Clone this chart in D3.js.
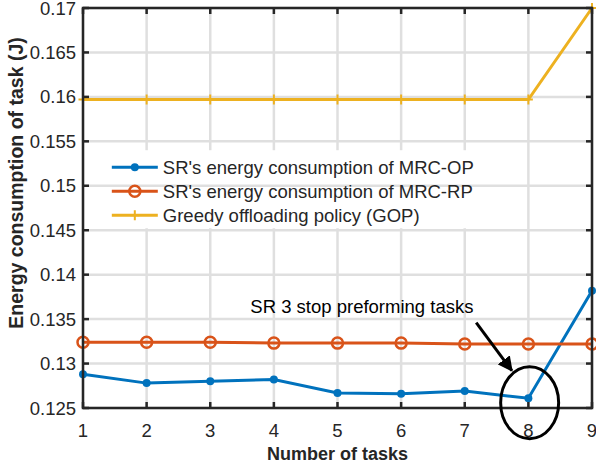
<!doctype html>
<html>
<head>
<meta charset="UTF-8">
<title>Energy consumption of task</title>
<script src="https://cdn.jsdelivr.net/npm/d3@7"></script>
<style>
  body { margin: 0; background: #fff; }
  text { font-family: "Liberation Sans", Arial, sans-serif; fill: #262626; }
</style>
</head>
<body>
<svg id="chart" width="596" height="471"></svg>
<script>
// data
var tasks = [1, 2, 3, 4, 5, 6, 7, 8, 9];
var mrcOP = [0.1288, 0.1278, 0.1280, 0.1282, 0.1267, 0.1266, 0.1269, 0.1261, 0.1382];
var mrcRP = [0.1324, 0.1324, 0.1324, 0.1323, 0.1323, 0.1323, 0.1322, 0.1322, 0.1322];
var gop   = [0.1597, 0.1597, 0.1597, 0.1597, 0.1597, 0.1597, 0.1597, 0.1597, 0.1700];
var yTicks = [0.125, 0.13, 0.135, 0.14, 0.145, 0.15, 0.155, 0.16, 0.165, 0.17];
var xTicks = [1, 2, 3, 4, 5, 6, 7, 8, 9];
var seriesNames = ["SR's energy consumption of MRC-OP", "SR's energy consumption of MRC-RP", "Greedy offloading policy (GOP)"];
var seriesColors = ["#0072BD", "#D95319", "#EDB120"];
var noteText = "SR 3 stop preforming tasks";

var svg = d3.select("#chart"),
    margin = {top: 8, right: 4, bottom: 63, left: 83},
    W = +svg.attr("width"), H = +svg.attr("height");

svg.append("rect").attr("width", W).attr("height", H).attr("fill", "#fff");

var x = d3.scaleLinear().domain([1, 9]).range([margin.left, W - margin.right]);
var y = d3.scaleLinear().domain([0.125, 0.17]).range([H - margin.bottom, margin.top]);

var series = [mrcOP, mrcRP, gop].map(function(vals, i) {
  return {name: seriesNames[i], color: seriesColors[i], values: tasks.map(function(t, j) { return {t: t, v: vals[j]}; })};
});

var gridColor = "#dfdfdf";
// vertical grid
svg.append("g").selectAll("line").data(xTicks).enter().append("line")
  .attr("x1", function(d) { return x(d); }).attr("x2", function(d) { return x(d); })
  .attr("y1", y(0.17)).attr("y2", y(0.125))
  .attr("stroke", gridColor).attr("stroke-width", 2.5);

// legend background (hides the vertical grid under it)
var lgX = x(1.39), lgY = y(0.154);
svg.append("rect").attr("x", lgX).attr("y", lgY).attr("width", 377).attr("height", 78).attr("fill", "#fff");

// horizontal grid
svg.append("g").selectAll("line").data(yTicks).enter().append("line")
  .attr("x1", x(1)).attr("x2", x(9))
  .attr("y1", function(d) { return y(d); }).attr("y2", function(d) { return y(d); })
  .attr("stroke", gridColor).attr("stroke-width", 2.5);

var line = d3.line().x(function(d) { return x(d.t); }).y(function(d) { return y(d.v); });

function drawMarker(sel, i, cx, cy) {
  if (i === 0) {
    sel.append("circle").attr("cx", cx).attr("cy", cy).attr("r", 4).attr("fill", seriesColors[i]);
  } else if (i === 1) {
    sel.append("circle").attr("cx", cx).attr("cy", cy).attr("r", 5.5)
      .attr("fill", "none").attr("stroke", seriesColors[i]).attr("stroke-width", 2.5);
  } else {
    sel.append("path").attr("d", "M" + (cx - 4.5) + "," + cy + "H" + (cx + 4.5) + "M" + cx + "," + (cy - 5) + "V" + (cy + 5))
      .attr("stroke", seriesColors[i]).attr("stroke-width", 2);
  }
}

var plot = svg.append("g");
series.forEach(function(s, i) {
  plot.append("path").attr("d", line(s.values)).attr("fill", "none")
    .attr("stroke", s.color).attr("stroke-width", 3);
  s.values.forEach(function(d) { drawMarker(plot, i, x(d.t), y(d.v)); });
});

// axes box
var axisColor = "#262626";
svg.append("rect").attr("x", x(1)).attr("y", y(0.17)).attr("width", x(9) - x(1)).attr("height", y(0.125) - y(0.17))
  .attr("fill", "none").attr("stroke", axisColor).attr("stroke-width", 2.5);

var fmt = d3.format("~g");
var tickLen = 6;
var ax = svg.append("g").attr("stroke", axisColor).attr("stroke-width", 2.5);
xTicks.forEach(function(t) {
  ax.append("line").attr("x1", x(t)).attr("x2", x(t)).attr("y1", y(0.125)).attr("y2", y(0.125) - tickLen);
  ax.append("line").attr("x1", x(t)).attr("x2", x(t)).attr("y1", y(0.17)).attr("y2", y(0.17) + tickLen);
});
yTicks.forEach(function(t) {
  ax.append("line").attr("x1", x(1)).attr("x2", x(1) + tickLen).attr("y1", y(t)).attr("y2", y(t));
  ax.append("line").attr("x1", x(9)).attr("x2", x(9) - tickLen).attr("y1", y(t)).attr("y2", y(t));
});

svg.append("g").selectAll("text").data(xTicks).enter().append("text")
  .attr("x", function(d) { return x(d); }).attr("y", y(0.125) + 29)
  .attr("text-anchor", "middle").style("font-size", "18.5px")
  .text(function(d) { return d; });

svg.append("g").selectAll("text").data(yTicks).enter().append("text")
  .attr("x", x(1) - 7).attr("y", function(d) { return y(d) + 6.5; })
  .attr("text-anchor", "end").style("font-size", "18.5px")
  .text(function(d) { return fmt(d); });

svg.append("text").attr("x", (x(1) + x(9)) / 2).attr("y", 460)
  .attr("text-anchor", "middle").style("font-size", "18px").style("font-weight", "bold")
  .text("Number of tasks");

svg.append("text").attr("transform", "translate(23," + 183 + ") rotate(-90)")
  .attr("text-anchor", "middle").style("font-size", "19.5px").style("font-weight", "bold")
  .text("Energy consumption of task (J)");

// legend
var lg = svg.append("g");
series.forEach(function(s, i) {
  var ly = lgY + 17 + i * 24;
  lg.append("line").attr("x1", lgX + 4).attr("x2", lgX + 50).attr("y1", ly).attr("y2", ly)
    .attr("stroke", s.color).attr("stroke-width", 3);
  drawMarker(lg, i, lgX + 27, ly);
  lg.append("text").attr("x", lgX + 55).attr("y", ly + 6.5).style("font-size", "18.5px").text(s.name);
});

// annotation
var defs = svg.append("defs");
defs.append("marker").attr("id", "arrow").attr("viewBox", "0 0 10 10").attr("refX", 9).attr("refY", 5)
  .attr("markerWidth", 5).attr("markerHeight", 5).attr("orient", "auto")
  .append("path").attr("d", "M0,0L10,5L0,10Z").attr("fill", "#000");

svg.append("text").attr("x", x(3.63)).attr("y", y(0.1357)).style("font-size", "18.5px").style("fill", "#000")
  .text(noteText);

svg.append("line").attr("x1", x(7.18)).attr("y1", y(0.1346)).attr("x2", x(7.74)).attr("y2", y(0.1292))
  .attr("stroke", "#000").attr("stroke-width", 3).attr("marker-end", "url(#arrow)");

svg.append("ellipse").attr("cx", x(8.02)).attr("cy", y(0.1256)).attr("rx", 29).attr("ry", 36)
  .attr("fill", "none").attr("stroke", "#000").attr("stroke-width", 3);
</script>
</body>
</html>
